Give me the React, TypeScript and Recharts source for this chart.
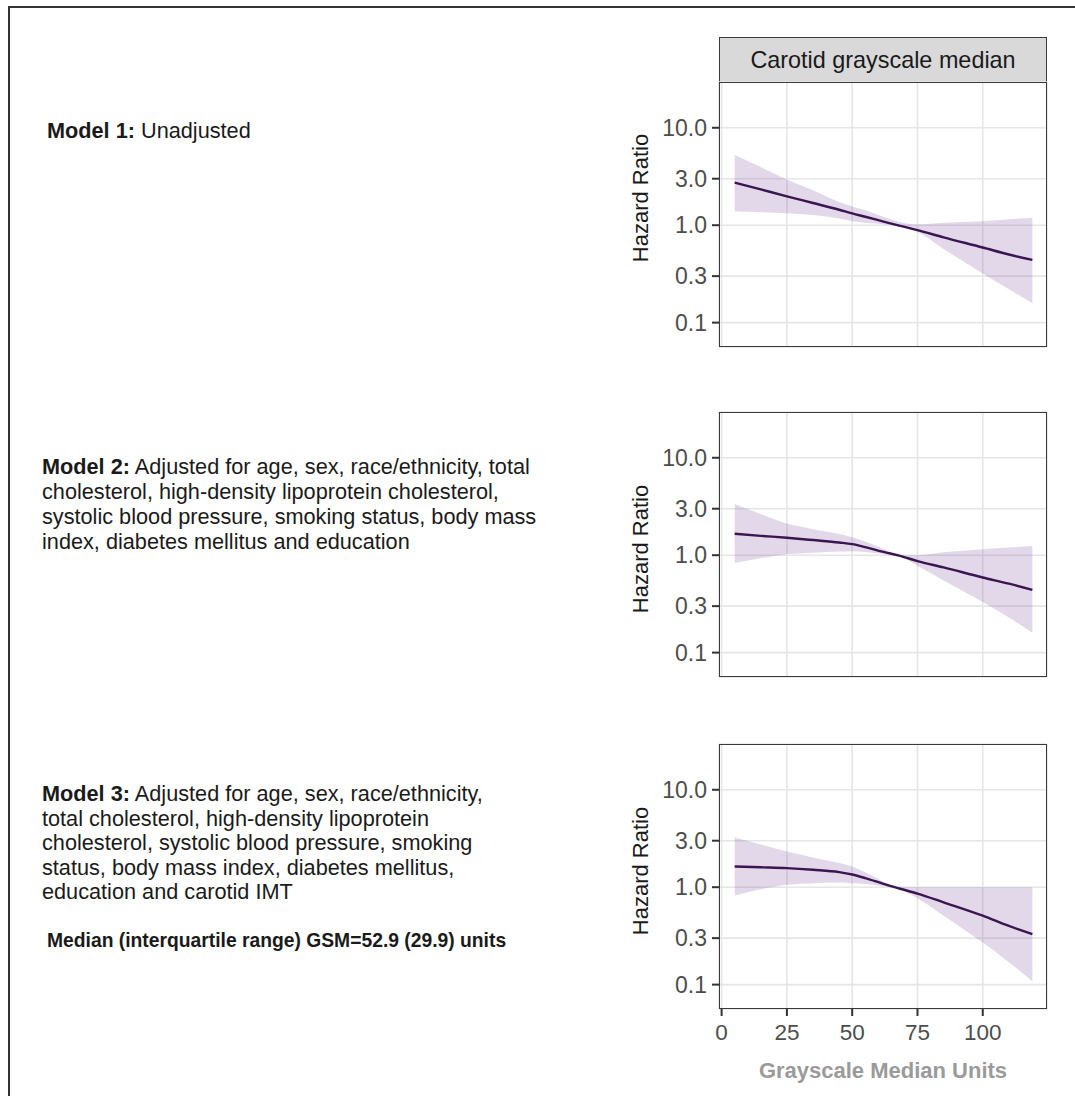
import React from "react"
import { ComposedChart, Area, Line, XAxis, YAxis, CartesianGrid, Label } from "recharts"

// grayscale median units where the curves were read
const gsm = [5, 15, 25, 35, 45, 50, 55, 62, 68, 75, 85, 100, 110, 119]

// Model 1: unadjusted
const m1Hr = [2.74, 2.33, 1.98, 1.69, 1.44, 1.32, 1.22, 1.09, 0.99, 0.89, 0.75, 0.59, 0.5, 0.44]
const m1Lo = [1.39, 1.36, 1.33, 1.27, 1.17, 1.1, 1.06, 1.02, 0.97, 0.85, 0.57, 0.32, 0.22, 0.158]
const m1Hi = [5.3, 3.95, 2.94, 2.28, 1.73, 1.56, 1.42, 1.22, 1.08, 1.02, 1.06, 1.1, 1.15, 1.19]

// Model 2
const m2Hr = [1.66, 1.58, 1.51, 1.43, 1.35, 1.3, 1.21, 1.08, 0.99, 0.87, 0.75, 0.59, 0.51, 0.44]
const m2Lo = [0.83, 0.93, 1.02, 1.06, 1.09, 1.1, 1.08, 1.03, 0.98, 0.78, 0.55, 0.33, 0.23, 0.16]
const m2Hi = [3.35, 2.64, 2.11, 1.85, 1.65, 1.53, 1.38, 1.16, 1.0, 1.0, 1.07, 1.15, 1.2, 1.24]

// Model 3
const m3Hr = [1.63, 1.6, 1.57, 1.51, 1.43, 1.35, 1.24, 1.08, 0.97, 0.86, 0.7, 0.51, 0.4, 0.33]
const m3Lo = [0.82, 0.95, 1.06, 1.1, 1.12, 1.1, 1.08, 1.02, 0.95, 0.77, 0.51, 0.27, 0.17, 0.108]
const m3Hi = [3.24, 2.75, 2.33, 2.02, 1.77, 1.63, 1.42, 1.14, 1.0, 1.0, 1.0, 1.0, 1.0, 1.0]

const xTicks = [0, 25, 50, 75, 100]
const yTicks = [0.1, 0.3, 1, 3, 10]

const FONT = '"Liberation Sans", Arial, Helvetica, sans-serif'
const LINE = "#3b1552"
const BAND = "#7b4f9e"

const rows = (hr: number[], lo: number[], hi: number[]) =>
  gsm.map((x, i) => ({ gsm: x, hr: hr[i], band: [lo[i], hi[i]] }))

const PLOT_LEFT = 719
const PLOT_W = 328
const PLOT_H = 265
const CHART_LEFT = 600
const MT = 10

function Panel({ top, data, titleOffset, showX }: { top: number; data: any[]; titleOffset: number; showX?: boolean }) {
  const xAxisH = showX ? 85 : 0
  const height = MT + PLOT_H + (showX ? xAxisH : 10)
  return (
    <>
      <div style={{ position: "absolute", left: CHART_LEFT, top: top - MT }}>
        <ComposedChart
          width={PLOT_LEFT - CHART_LEFT + PLOT_W + 13}
          height={height}
          data={data}
          margin={{ top: MT, right: 13, bottom: showX ? 0 : 10, left: 0 }}
        >
          <CartesianGrid stroke="#e6e6e6" strokeWidth={1.6} />
          <XAxis
            dataKey="gsm"
            type="number"
            domain={[-1, 124.6]}
            ticks={xTicks}
            allowDataOverflow
            hide={!showX}
            height={xAxisH}
            axisLine={false}
            tickLine={{ stroke: "#333", strokeWidth: 2 }}
            tickSize={7}
            tickMargin={8}
            tick={{ fontSize: 22.5, fill: "#4d4d4d" }}
          >
            <Label
              content={() => (
                <text x={PLOT_LEFT - CHART_LEFT + PLOT_W / 2} y={MT + PLOT_H + 69} textAnchor="middle"
                  fontSize={22} fontWeight="bold" fill="#9a9a9a">
                  Grayscale Median Units
                </text>
              )}
            />
          </XAxis>
          <YAxis
            scale="log"
            domain={[0.0562, 29.5]}
            ticks={yTicks}
            allowDataOverflow
            width={PLOT_LEFT - CHART_LEFT}
            axisLine={false}
            tickLine={{ stroke: "#333", strokeWidth: 2 }}
            tickSize={7}
            tickMargin={5}
            tickFormatter={(v: number) => v.toFixed(1)}
            tick={{ fontSize: 23, fill: "#4d4d4d" }}
          >
            <Label
              content={() => {
                const x = 40
                const y = MT + titleOffset
                return (
                  <text x={x} y={y} transform={`rotate(-90 ${x} ${y})`} textAnchor="middle"
                    dominantBaseline="central" fontSize={22} fill="#1a1a1a">
                    Hazard Ratio
                  </text>
                )
              }}
            />
          </YAxis>
          <Area dataKey="band" type="monotone" fill={BAND} fillOpacity={0.22} stroke="none" isAnimationActive={false} />
          <Line dataKey="hr" type="monotone" stroke={LINE} strokeWidth={2.4} dot={false} isAnimationActive={false} />
        </ComposedChart>
      </div>
      <div
        style={{
          position: "absolute", left: PLOT_LEFT, top, width: PLOT_W, height: PLOT_H,
          border: "1.5px solid #3a3a3a", boxSizing: "border-box", pointerEvents: "none",
        }}
      />
    </>
  )
}

const textStyle: React.CSSProperties = {
  position: "absolute", fontSize: 21.7, lineHeight: "25px", color: "#1a1a1a", whiteSpace: "nowrap",
}

export default function App() {
  return (
    <div style={{ position: "absolute", left: 0, top: 0, width: 1075, height: 1096, overflow: "hidden", background: "#fff", fontFamily: FONT }}>
      <div style={{ position: "absolute", left: 8, top: 6, width: 1100, height: 1120, border: "2px solid #333" }} />

      <div style={{ ...textStyle, left: 47, top: 118 }}>
        <b>Model 1:</b> Unadjusted
      </div>
      <div style={{ ...textStyle, left: 42, top: 454 }}>
        <b>Model 2:</b> Adjusted for age, sex, race/ethnicity, total<br />
        cholesterol, high-density lipoprotein cholesterol,<br />
        systolic blood pressure, smoking status, body mass<br />
        index, diabetes mellitus and education
      </div>
      <div style={{ ...textStyle, left: 42, top: 782, lineHeight: "24.5px" }}>
        <b>Model 3:</b> Adjusted for age, sex, race/ethnicity,<br />
        total cholesterol, high-density lipoprotein<br />
        cholesterol, systolic blood pressure, smoking<br />
        status, body mass index, diabetes mellitus,<br />
        education and carotid IMT
      </div>
      <div style={{ ...textStyle, left: 47, top: 929, fontSize: 19.3, fontWeight: "bold", lineHeight: "24px" }}>
        Median (interquartile range) GSM=52.9 (29.9) units
      </div>

      <div
        style={{
          position: "absolute", left: PLOT_LEFT, top: 37, width: PLOT_W, height: 46, background: "#d9d9d9",
          border: "1.5px solid #3a3a3a", boxSizing: "border-box", display: "flex", alignItems: "center",
          justifyContent: "center", fontSize: 23.4, color: "#1a1a1a",
        }}
      >
        Carotid grayscale median
      </div>

      <Panel top={82} data={rows(m1Hr, m1Lo, m1Hi)} titleOffset={116} />
      <Panel top={412} data={rows(m2Hr, m2Lo, m2Hi)} titleOffset={137} />
      <Panel top={744} data={rows(m3Hr, m3Lo, m3Hi)} titleOffset={127} showX />
    </div>
  )
}
